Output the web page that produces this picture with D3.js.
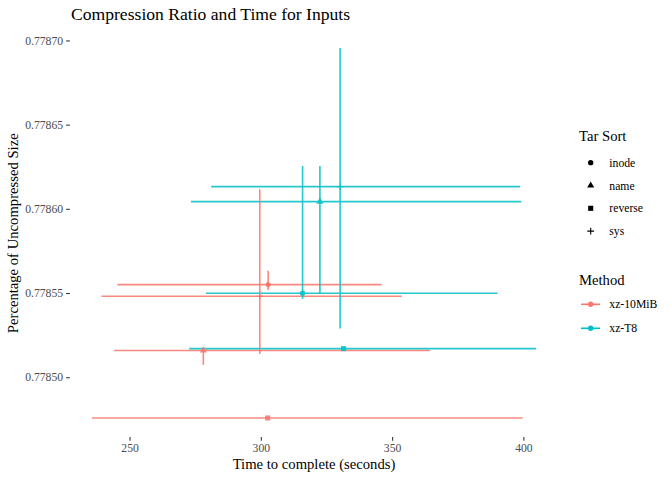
<!DOCTYPE html>
<html>
<head>
<meta charset="utf-8">
<script src="https://cdn.jsdelivr.net/npm/d3@7"></script>
<style>
  body { margin: 0; background: #fff; }
  svg, svg text { font-family: "Liberation Serif", "DejaVu Serif", serif; }
</style>
</head>
<body>
<svg id="chart" width="672" height="480"></svg>
<script>
// values
const method = ['xz-10MiB', 'xz-10MiB', 'xz-10MiB', 'xz-10MiB', 'xz-T8', 'xz-T8', 'xz-T8', 'xz-T8'];
const tarSort = ['inode', 'name', 'reverse', 'sys', 'inode', 'name', 'reverse', 'sys'];
const timeMid = [302.8, 278.1, 302.6, 299.6, 315.9, 322.5, 331.5, 330.2];
const timeLow = [245.4, 244.1, 235.7, 239.3, 279.1, 273.4, 272.7, 281.1];
const timeHigh = [346.0, 364.4, 399.7, 353.7, 390.1, 399.2, 404.8, 398.8];
const ratioMid = [0.778555, 0.7785159, 0.7784758, 0.7785481, 0.7785499, 0.7786043, 0.778517, 0.7786132];
const ratioLow = [0.7785518, 0.7785073, 0.7784755, 0.7785138, 0.7785465, 0.7785499, 0.7785168, 0.7785289];
const ratioHigh = [0.7785633, 0.7785165, 0.7784761, 0.7786116, 0.7786255, 0.7786255, 0.7785172, 0.7786955];

const methods = ['xz-10MiB', 'xz-T8'];
const sorts = ['inode', 'name', 'reverse', 'sys'];
const xTicks = [250, 300, 350, 400];
const yTicks = [0.77850, 0.77855, 0.77860, 0.77865, 0.77870];

const rows = method.map((m, i) => ({
    method: m, sort: tarSort[i],
    x: timeMid[i], x0: timeLow[i], x1: timeHigh[i],
    y: ratioMid[i], y0: ratioLow[i], y1: ratioHigh[i]
}));

const svg = d3.select('#chart');
const panel = { left: 69.8, right: 558.2, top: 29.5, bottom: 437 };

// ggplot-like 5% expansion
const expand = (lo, hi) => { const d = (hi - lo) * 0.05; return [lo - d, hi + d]; };
const xScale = d3.scaleLinear()
    .domain(expand(d3.min(timeLow), d3.max(timeHigh)))
    .range([panel.left, panel.right]);
const yScale = d3.scaleLinear()
    .domain(expand(d3.min(ratioLow), d3.max(ratioHigh)))
    .range([panel.bottom, panel.top]);

const color = d3.scaleOrdinal().domain(methods).range(['#F8766D', '#00BFC4']);

const shapePath = (s) => {
    if (s === 'sys') return 'M-3.4,0H3.4M0,-3.4V3.4';
    const type = { inode: d3.symbolCircle, name: d3.symbolTriangle, reverse: d3.symbolSquare }[s];
    return d3.symbol().type(type).size(s === 'reverse' ? 26 : 22)();
};

// axes
const xAxis = svg.append('g')
    .attr('transform', `translate(0,${panel.bottom})`)
    .call(d3.axisBottom(xScale).tickValues(xTicks).tickSize(3.7).tickPadding(3));
const yAxis = svg.append('g')
    .attr('transform', `translate(${panel.left},0)`)
    .call(d3.axisLeft(yScale).tickValues(yTicks).tickFormat(d3.format('.5f')).tickSize(3.7).tickPadding(3));

[xAxis, yAxis].forEach((ax) => {
    ax.attr('font-family', null).attr('font-size', null);
    ax.select('.domain').remove();
    ax.selectAll('.tick line').attr('stroke', '#333333').attr('stroke-width', 1.07);
    ax.selectAll('.tick text')
        .attr('fill', '#4d4d4d')
        .style('font-size', '11.7px')
        .style('font-family', '"Liberation Serif", serif');
});

// horizontal ranges first, then vertical, then points
const marks = svg.append('g');
marks.selectAll('.hbar')
    .data(rows)
    .join('line')
    .attr('x1', (d) => xScale(d.x0))
    .attr('x2', (d) => xScale(d.x1))
    .attr('y1', (d) => yScale(d.y))
    .attr('y2', (d) => yScale(d.y))
    .attr('stroke', (d) => color(d.method))
    .attr('stroke-width', 1.6)
    .attr('opacity', 0.85);

marks.selectAll('.vbar')
    .data(rows)
    .join('line')
    .attr('x1', (d) => xScale(d.x))
    .attr('x2', (d) => xScale(d.x))
    .attr('y1', (d) => yScale(d.y0))
    .attr('y2', (d) => yScale(d.y1))
    .attr('stroke', (d) => color(d.method))
    .attr('stroke-width', 1.6)
    .attr('opacity', 0.85);

marks.selectAll('.pt')
    .data(rows)
    .join('path')
    .attr('transform', (d) => `translate(${xScale(d.x)},${yScale(d.y)})`)
    .attr('d', (d) => shapePath(d.sort))
    .attr('fill', (d) => (d.sort === 'sys' ? 'none' : color(d.method)))
    .attr('stroke', (d) => (d.sort === 'sys' ? color(d.method) : 'none'))
    .attr('stroke-width', 1.1)
    .attr('opacity', 0.85);

// titles
svg.append('text')
    .attr('x', 71).attr('y', 19.5)
    .attr('font-size', 17.6)
    .attr('fill', '#000')
    .text('Compression Ratio and Time for Inputs');

svg.append('text')
    .attr('x', (panel.left + panel.right) / 2).attr('y', 469)
    .attr('text-anchor', 'middle')
    .attr('font-size', 14.67)
    .text('Time to complete (seconds)');

svg.append('text')
    .attr('transform', `translate(18,${(panel.top + panel.bottom) / 2}) rotate(-90)`)
    .attr('text-anchor', 'middle')
    .attr('font-size', 14.67)
    .text('Percentage of Uncompressed Size');

// legends
const legend = svg.append('g').attr('transform', 'translate(579,0)');
legend.append('text').attr('x', 0).attr('y', 141).attr('font-size', 14.67).text('Tar Sort');
const sortKeys = legend.selectAll('.sk')
    .data(sorts)
    .join('g')
    .attr('transform', (d, i) => `translate(0,${162.7 + i * 22.8})`);
sortKeys.append('path')
    .attr('transform', 'translate(11.7,0)')
    .attr('d', (d) => shapePath(d))
    .attr('fill', (d) => (d === 'sys' ? 'none' : '#000'))
    .attr('stroke', (d) => (d === 'sys' ? '#000' : 'none'))
    .attr('stroke-width', 1.1);
sortKeys.append('text')
    .attr('x', 30.3).attr('y', 4)
    .attr('font-size', 11.7)
    .text((d) => d);

legend.append('text').attr('x', 0).attr('y', 284.5).attr('font-size', 14.67).text('Method');
const methodKeys = legend.selectAll('.mk')
    .data(methods)
    .join('g')
    .attr('transform', (d, i) => `translate(0,${304.3 + i * 24})`);
methodKeys.append('line')
    .attr('x1', 2).attr('x2', 21)
    .attr('stroke', (d) => color(d))
    .attr('stroke-width', 1.6);
methodKeys.append('circle')
    .attr('cx', 11.7).attr('r', 2.7)
    .attr('fill', (d) => color(d));
methodKeys.append('text')
    .attr('x', 30.3).attr('y', 4)
    .attr('font-size', 11.7)
    .text((d) => d);
</script>
</body>
</html>
